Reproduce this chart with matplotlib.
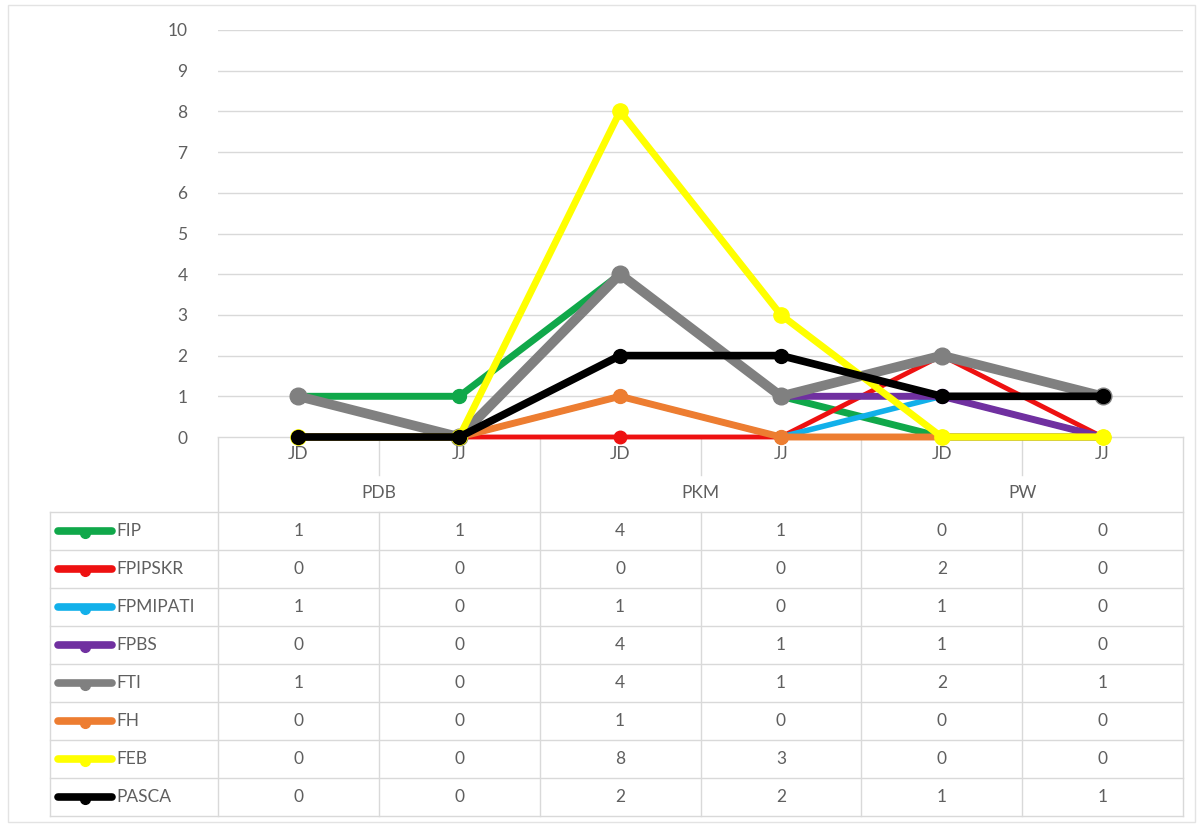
import numpy as np
import matplotlib.pyplot as plt
from matplotlib.patches import Rectangle

# data
groups = ["PDB", "PKM", "PW"]
subcats = ["JD", "JJ"]
series = ["FIP", "FPIPSKR", "FPMIPATI", "FPBS", "FTI", "FH", "FEB", "PASCA"]

fip = [1, 1, 4, 1, 0, 0]
fpipskr = [0, 0, 0, 0, 2, 0]
fpmipati = [1, 0, 1, 0, 1, 0]
fpbs = [0, 0, 4, 1, 1, 0]
fti = [1, 0, 4, 1, 2, 1]
fh = [0, 0, 1, 0, 0, 0]
feb = [0, 0, 8, 3, 0, 0]
pasca = [0, 0, 2, 2, 1, 1]

values = [fip, fpipskr, fpmipati, fpbs, fti, fh, feb, pasca]
colors = ["#10a84a", "#ee1111", "#12b0ea", "#7030a0", "#808080",
          "#ed7d31", "#ffff00", "#000000"]
widths = [5.0, 3.5, 4.0, 5.0, 7.0, 5.0, 5.0, 5.5]
msizes = [10, 9, 9, 10, 12, 10, 11, 10]

W, H = 1203, 827
txt = "#5f5f5f"
grid = "#d9d9d9"
font = "Lato"
fs = 12.5

fig = plt.figure(figsize=(W / 100, H / 100), dpi=100)

# pixel layout
x0, x1 = 218, 1183
y_top, y_zero = 30, 437
ncol = len(groups) * len(subcats)
colw = (x1 - x0) / ncol

ax = fig.add_axes([x0 / W, 1 - y_zero / H, (x1 - x0) / W, (y_zero - y_top) / H])
x = np.arange(ncol)
for vals, c, lw, ms in zip(values, colors, widths, msizes):
    ax.plot(x, vals, color=c, lw=lw, marker="o", ms=ms, clip_on=False,
            solid_joinstyle="round", zorder=3)
ax.set_xlim(-0.5, ncol - 0.5)
ax.set_ylim(0, 10)
ax.set_yticks(range(0, 11))
ax.tick_params(axis="y", length=0, pad=22, labelsize=fs, labelcolor=txt)
for lab in ax.get_yticklabels():
    lab.set_fontfamily(font)
ax.set_xticks([])
ax.grid(axis="y", color=grid, lw=1)
ax.set_axisbelow(True)
for s in ax.spines.values():
    s.set_visible(False)

# overlay in pixel coordinates for the data table
ov = fig.add_axes([0, 0, 1, 1], zorder=-1)
ov.set_xlim(0, W)
ov.set_ylim(H, 0)
ov.axis("off")

ov.add_patch(Rectangle((8, 5), 1187, 817, fill=False, ec="#e3e3e3", lw=1))

row1, row2 = 475, 512
rowh = 38
tbl_left = 50
y_end = row2 + rowh * len(series)

# header lines
ov.plot([x0, x0], [y_zero, y_end], color=grid, lw=1)
for i in range(1, ncol + 1):
    xx = x0 + i * colw
    if i % len(subcats) == 0:
        ov.plot([xx, xx], [y_zero, y_end], color=grid, lw=1)
    else:
        ov.plot([xx, xx], [y_zero, row1], color=grid, lw=1)
        ov.plot([xx, xx], [row2, y_end], color=grid, lw=1)
ov.plot([x0, x1], [y_zero, y_zero], color=grid, lw=1)

for i in range(ncol):
    ov.text(x0 + (i + 0.5) * colw, 454, subcats[i % len(subcats)], ha="center",
            va="center", fontsize=fs, color=txt, family=font)
for g, name in enumerate(groups):
    ov.text(x0 + (g + 0.5) * colw * len(subcats), 493, name, ha="center",
            va="center", fontsize=fs, color=txt, family=font)

# table rows
for r in range(len(series) + 1):
    yy = row2 + r * rowh
    ov.plot([tbl_left, x1], [yy, yy], color=grid, lw=1)
ov.plot([tbl_left, tbl_left], [row2, y_end], color=grid, lw=1)

for r, (name, vals, c) in enumerate(zip(series, values, colors)):
    yc = row2 + (r + 0.5) * rowh
    ov.plot([58, 112], [yc, yc], color=c, lw=5.5, solid_capstyle="round")
    ov.plot([85], [yc + 2], marker="o", color=c, ms=7)
    ov.text(116, yc, name, ha="left", va="center", fontsize=fs, color=txt,
            family=font)
    for i, v in enumerate(vals):
        ov.text(x0 + (i + 0.5) * colw, yc, str(v), ha="center", va="center",
                fontsize=fs, color=txt, family=font)

fig.savefig("out.png", dpi=100)
